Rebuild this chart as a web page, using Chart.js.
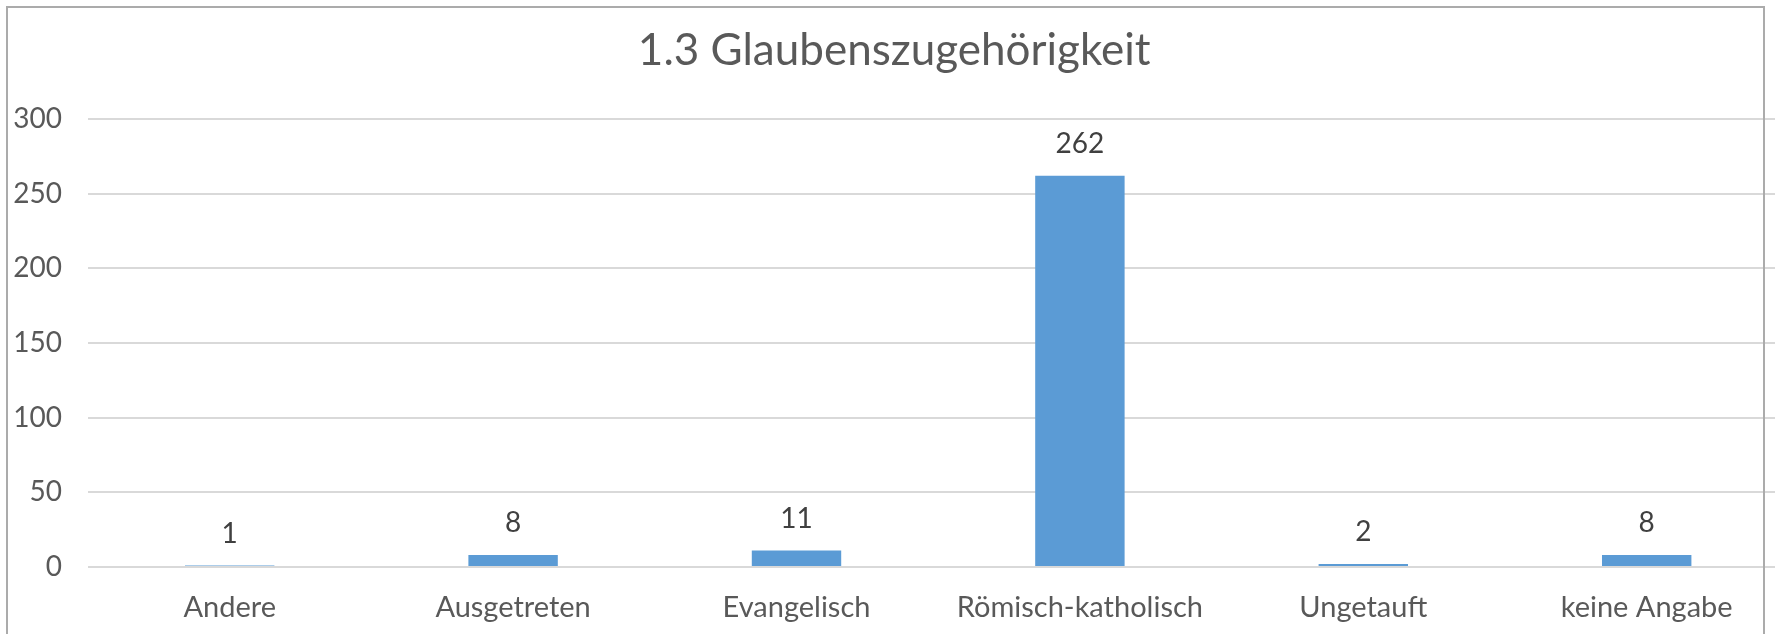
<!DOCTYPE html>
<html>
<head>
<meta charset="utf-8">
<script src="https://cdn.jsdelivr.net/npm/chart.js@4.4.1/dist/chart.umd.min.js"></script>
<style>
    html, body { margin: 0; padding: 0; background: #fff; overflow: hidden; }
    #wrap { position: relative; width: 1775px; height: 634px; overflow: hidden; }
    #chartBox { position: absolute; left: 0; top: 0; width: 1800px; height: 634px; }
    #frame {
        position: absolute; left: 6px; top: 6px; width: 1759px; height: 700px;
        border: 2px solid #ababab; box-sizing: border-box; pointer-events: none;
    }
</style>
</head>
<body>
<div id="wrap">
    <div id="chartBox"><canvas id="glaubenChart" width="1800" height="634"></canvas></div>
    <div id="frame"></div>
</div>
<script>
const categories = ["Andere", "Ausgetreten", "Evangelisch", "Römisch-katholisch", "Ungetauft", "keine Angabe"];
const counts = [1, 8, 11, 262, 2, 8];
const yTicks = [0, 50, 100, 150, 200, 250, 300];

// draws the value above each bar
const valueLabels = {
    id: "valueLabels",
    afterDatasetsDraw(chart) {
        const ctx = chart.ctx;
        const meta = chart.getDatasetMeta(0);
        ctx.save();
        ctx.font = "28px Lato";
        ctx.fillStyle = "#404040";
        ctx.textAlign = "center";
        ctx.textBaseline = "middle";
        meta.data.forEach((bar, i) => {
            ctx.fillText(String(counts[i]), bar.x, bar.y - 32);
        });
        ctx.restore();
    }
};

document.addEventListener("DOMContentLoaded", function () {
    const ctx = document.getElementById("glaubenChart").getContext("2d");
    new Chart(ctx, {
        type: "bar",
        data: {
            labels: categories,
            datasets: [{
                data: counts,
                backgroundColor: "#5b9bd5",
                borderWidth: 0,
                barPercentage: 1,
                categoryPercentage: 0.3155
            }]
        },
        options: {
            responsive: false,
            animation: false,
            layout: { padding: { left: 0, right: 11.6, top: 0, bottom: 0 } },
            plugins: {
                legend: { display: false },
                tooltip: { enabled: false },
                title: {
                    display: true,
                    text: "1.3 Glaubenszugehörigkeit",
                    color: "#595959",
                    font: { family: "Lato", size: 44, weight: "normal" },
                    padding: { top: 24.6, bottom: 41.6 }
                }
            },
            scales: {
                x: {
                    grid: { display: false, drawTicks: false },
                    border: { display: false },
                    ticks: {
                        color: "#595959",
                        font: { family: "Lato", size: 29 },
                        padding: 23,
                        maxRotation: 0,
                        autoSkip: false
                    },
                    afterFit: s => { s.height = 67; }
                },
                y: {
                    min: 0,
                    max: 300,
                    afterBuildTicks: s => { s.ticks = yTicks.map(v => ({ value: v })); },
                    grid: { color: "#d9d9d9", lineWidth: 2, drawTicks: false },
                    border: { display: false },
                    ticks: {
                        color: "#595959",
                        font: { family: "Lato", size: 28 },
                        padding: 26
                    },
                    afterFit: s => { s.width = 88; }
                }
            }
        },
        plugins: [valueLabels]
    });
});
</script>
</body>
</html>
